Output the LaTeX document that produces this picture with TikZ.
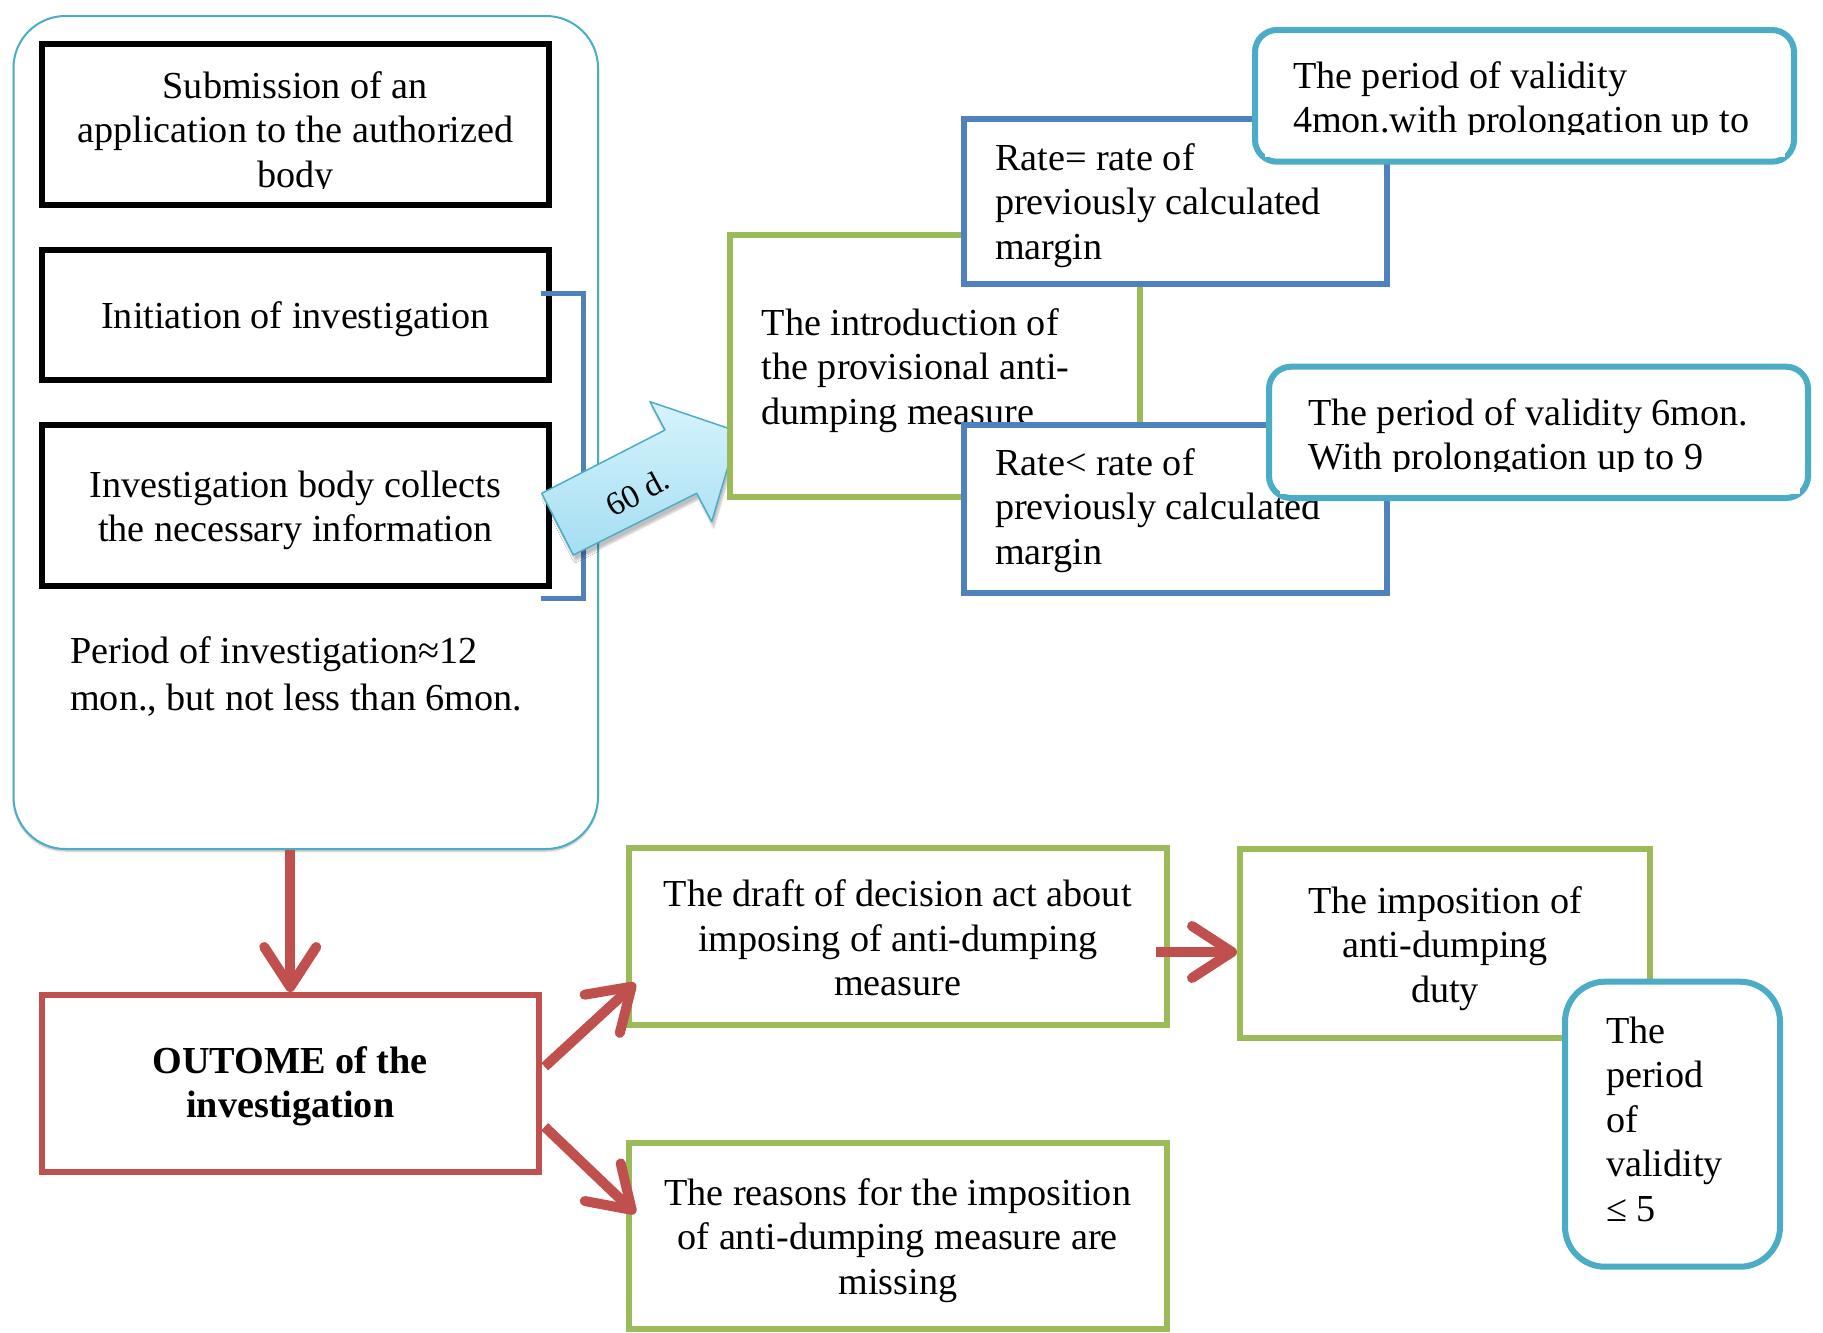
\documentclass[tikz,border=0pt]{standalone}
\usepackage{fontspec}
\setmainfont{Liberation Serif}
\usetikzlibrary{arrows.meta,calc,shadows.blur}
\definecolor{cyA}{HTML}{4BACC6}
\definecolor{grA}{HTML}{9BBB59}
\definecolor{blA}{HTML}{4F81BD}
\definecolor{rdA}{HTML}{C0504D}
\definecolor{arrL}{HTML}{D6F3FC}
\definecolor{arrD}{HTML}{A4DEF2}
\newcommand\vt[2]{\rule{0pt}{#1pt}#2\rule[-15pt]{0pt}{0pt}}
\begin{document}
\begin{tikzpicture}[x=1pt,y=1pt,
  every node/.style={font=\fontsize{38.2}{44.5}\selectfont},
  bx/.style={draw, fill=white, line width=6pt, inner ysep=0pt, inner xsep=10pt, align=flush center},
  lbx/.style={bx, align=flush left},
  redarr/.style={draw=rdA, line width=10pt, -{Straight Barb[length=40pt,width=52pt,round]}},
]
\useasboundingbox (0,0) rectangle (1823,-1333);

% outer rounded frame
\node[draw=cyA, line width=2pt, rounded corners=52pt, fill=white,
  minimum width=584.5pt, minimum height=833pt,
  blur shadow={shadow blur steps=6, shadow xshift=0pt, shadow yshift=-2pt, shadow opacity=30}]
  (outer) at (305.75,-432.5) {};

% black boxes
\node[bx, draw=black, minimum width=507.3pt, minimum height=160.7pt, text width=487.3pt]
  (b1) at (295.4,-124.7) {\vt{50.6}{Submission of an\\application to the authorized\\body}};
\fill[white] (60,-189) rectangle (530,-200);
\node[bx, draw=black, minimum width=507.3pt, minimum height=130pt, text width=487.3pt]
  (b2) at (295.4,-315) {\vt{41}{Initiation of investigation}};
\node[bx, draw=black, minimum width=507.3pt, minimum height=161pt, text width=487.3pt]
  (b3) at (295.4,-505.5) {\vt{42.5}{Investigation body collects\\the necessary information}};

% period text
\node[anchor=north west, inner sep=0pt, align=flush left, font=\fontsize{38.2}{47}\selectfont]
  (per) at (70,-632) {\rule{0pt}{31pt}Period of investigation≈12\\mon., but not less than 6mon.};

% blue bracket
\coordinate (brT) at (540.6,-293);
\coordinate (brB) at (540.6,-598.7);
\draw[blA, line width=5pt] (brT) -- ++(43,0) |- (brB);

% block arrow 60 d.
\coordinate (a1) at (541.7,-493.3);
\coordinate (a2) at (665,-430);
\coordinate (a3) at (650,-401.7);
\coordinate (a4) at (738.3,-431.7);
\coordinate (a5) at (711.7,-521.7);
\coordinate (a6) at (696.7,-493.3);
\coordinate (a7) at (573.3,-555);
\shadedraw[top color=arrL, bottom color=arrD, draw=cyA, line width=1.5pt, line join=round,
  blur shadow={shadow blur steps=6, shadow xshift=2pt, shadow yshift=-6pt, shadow opacity=25}]
  (a1) -- (a2) -- (a3) -- (a4) -- (a5) -- (a6) -- (a7) -- cycle;
\node[rotate=28, font=\fontsize{33}{36}\selectfont] (d60) at (637.5,-492.5) {60 d.};

% provisional measure
\node[lbx, draw=grA, minimum width=410pt, minimum height=262pt, inner xsep=31.7pt, text width=346.6pt]
  (intro) at (935,-366) {\vt{42}{The introduction of\\the provisional anti-\\dumping measure}};
\node[lbx, draw=blA, minimum width=423.3pt, minimum height=165pt, inner xsep=31.3pt, text width=360.7pt]
  (rEq) at (1175.4,-201.5) {\vt{41}{Rate= rate of\\previously calculated\\margin}};
\node[lbx, draw=blA, minimum width=423.3pt, minimum height=168pt, inner xsep=31.3pt, text width=360.7pt]
  (rLt) at (1175.4,-509) {\vt{36}{Rate< rate of\\previously calculated\\margin}};
\node[lbx, draw=cyA, rounded corners=22pt, minimum width=539pt, minimum height=131.7pt, inner xsep=38pt, text width=463pt]
  (v4) at (1524.5,-95.85) {\vt{43.8}{The period of validity\\\mbox{4mon.with prolongation up to}}};
\fill[white] (1265,-134.5) rectangle (1785,-157);
\node[lbx, draw=cyA, rounded corners=22pt, minimum width=539pt, minimum height=131.3pt, inner xsep=39pt, text width=461pt]
  (v6) at (1538.5,-432.35) {\vt{44.8}{\mbox{The period of validity 6mon.}\\With prolongation up to 9}};
\fill[white] (1280,-471.5) rectangle (1800,-494);

% outcome
\node[bx, draw=rdA, minimum width=497.5pt, minimum height=176.5pt, text width=477.5pt,
  font=\fontsize{38.2}{44.5}\selectfont\bfseries]
  (out) at (290.25,-1083.25) {\vt{39}{OUTOME of the\\investigation}};
\node[bx, draw=grA, minimum width=538.5pt, minimum height=177pt, text width=518.5pt]
  (draft) at (897.75,-936.5) {\vt{44.4}{The draft of decision act about\\imposing of anti-dumping\\measure}};
\node[bx, draw=grA, minimum width=538.5pt, minimum height=186pt, text width=518.5pt]
  (reas) at (897.75,-1236) {\vt{42}{The reasons for the imposition\\of anti-dumping measure are\\missing}};
\node[bx, draw=grA, minimum width=410pt, minimum height=189pt, text width=390pt]
  (impo) at (1445,-943.5) {\vt{43}{The imposition of\\anti-dumping\\duty}};
\node[lbx, draw=cyA, rounded corners=40pt, minimum width=215pt, minimum height=285pt, inner xsep=41pt, text width=133pt]
  (v5) at (1672.5,-1124.2) {\vt{30.6}{The\\period\\of\\validity\\≤ 5}};

% red arrows
\draw[redarr] (out.north |- outer.south) -- (out.north);
\draw[redarr] ($(out.east)+(2.7,16.5)$) -- ($(draft.west)+(9.8,-46.8)$);
\draw[redarr] ($(out.east)+(2.7,-43.5)$) -- ($(reas.west)+(9.8,22.7)$);
\draw[redarr] ($(draft.east)+(-14,-15.5)$) -- ($(impo.west)+(0,-8.5)$);
\end{tikzpicture}
\end{document}
